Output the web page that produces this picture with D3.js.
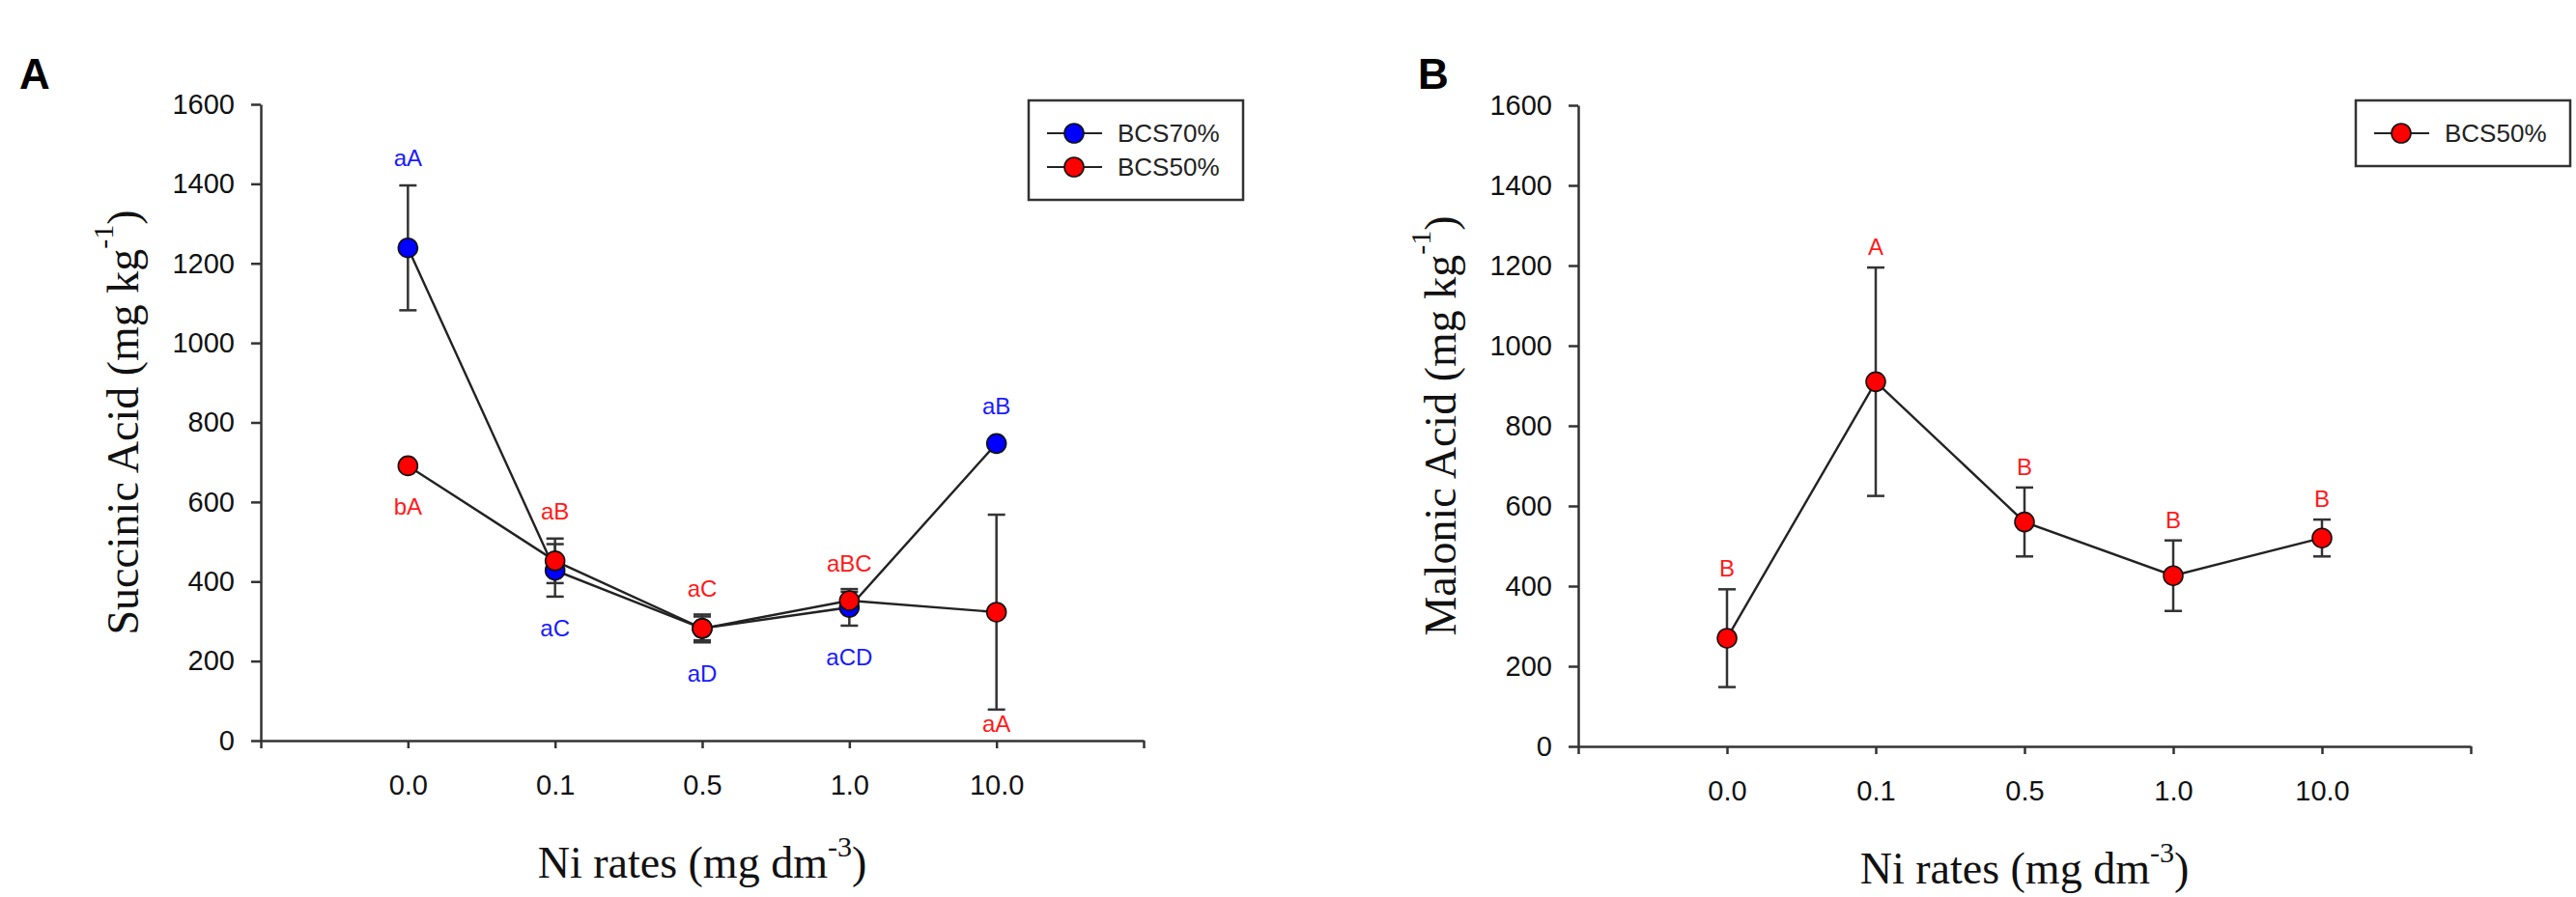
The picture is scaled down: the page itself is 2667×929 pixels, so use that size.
<!DOCTYPE html>
<html>
<head>
<meta charset="utf-8">
<script src="https://cdnjs.cloudflare.com/ajax/libs/d3/7.8.5/d3.min.js"></script>
<style>
  body { margin: 0; background: #fff; }
  svg { display: block; }
</style>
</head>
<body>
<div id="chart"></div>
<script>
var width = 2667;
var height = 929;

// x categories (Ni rates) and y ticks shared by both panels
var categories = ["0.0", "0.1", "0.5", "1.0", "10.0"];
var yTicks = [0, 200, 400, 600, 800, 1000, 1200, 1400, 1600];

// panel A - succinic acid
var succinic70 = [1239, 428, 282, 335, 747];
var succinic70Err = [157, 66, 35, 46, 8];
var succinic70Letters = ["aA", "aC", "aD", "aCD", "aB"];
var succinic70Side = ["up", "down", "down", "down", "up"];

var succinic50 = [691, 452, 282, 352, 323];
var succinic50Err = [8, 56, 30, 22, 245];
var succinic50Letters = ["bA", "aB", "aC", "aBC", "aA"];
var succinic50Side = ["down", "up", "up", "up", "down"];

// panel B - malonic acid
var malonic50 = [270, 910, 560, 426, 520];
var malonic50Err = [122, 285, 86, 88, 46];
var malonic50Letters = ["B", "A", "B", "B", "B"];
var malonic50Side = ["up", "up", "up", "up", "up"];

var blue = "#0000ff", red = "#ff0000";
var sans = "'Liberation Sans', Arial, sans-serif";
var serif = "'Liberation Serif', 'Times New Roman', serif";

var svg = d3.select("#chart").append("svg")
    .attr("width", width)
    .attr("height", height);

svg.append("rect")
    .attr("width", width)
    .attr("height", height)
    .attr("fill", "#fff");

function drawPanel(p) {
    var n = categories.length;
    var x = d3.scaleLinear().domain([0, n + 1]).range([p.left, p.right]);
    var y = d3.scaleLinear().domain([0, 1600]).range([p.bottom, p.top]);
    var g = svg.append("g");
    var r = 10;

    var yAxis = d3.axisLeft(y)
        .tickValues(yTicks)
        .tickSize(10)
        .tickSizeOuter(0)
        .tickPadding(17)
        .tickFormat(d3.format("d"));
    var xAxis = d3.axisBottom(x)
        .tickValues(d3.range(0, n + 2))
        .tickSize(8)
        .tickSizeOuter(0)
        .tickPadding(27)
        .tickFormat(function(i) { return categories[i - 1] || ""; });

    var gy = g.append("g")
        .attr("transform", "translate(" + p.left + ",0)")
        .call(yAxis);
    var gx = g.append("g")
        .attr("transform", "translate(0," + p.bottom + ")")
        .call(xAxis);

    [gy, gx].forEach(function(a) {
        a.selectAll("path, line").attr("stroke", "#333").attr("stroke-width", 2.5);
        a.selectAll("text")
            .attr("fill", "#111")
            .style("font-family", sans)
            .style("font-size", "29px");
    });

    // error bars first, then lines, then markers on top
    p.series.forEach(function(s) {
        var eb = g.append("g").attr("stroke", "#333").attr("stroke-width", 2.5);
        s.values.forEach(function(v, i) {
            var cx = x(i + 1);
            var y1 = y(v + s.errors[i]), y2 = y(v - s.errors[i]);
            eb.append("line").attr("x1", cx).attr("x2", cx).attr("y1", y1).attr("y2", y2);
            eb.append("line").attr("x1", cx - 9).attr("x2", cx + 9).attr("y1", y1).attr("y2", y1);
            eb.append("line").attr("x1", cx - 9).attr("x2", cx + 9).attr("y1", y2).attr("y2", y2);
        });
    });

    var line = d3.line()
        .x(function(d, i) { return x(i + 1); })
        .y(function(d) { return y(d); });

    p.series.forEach(function(s) {
        g.append("path")
            .datum(s.values)
            .attr("fill", "none")
            .attr("stroke", "#222")
            .attr("stroke-width", 2.4)
            .attr("d", line);
    });

    p.series.forEach(function(s) {
        g.append("g").selectAll("circle")
            .data(s.values)
            .join("circle")
            .attr("cx", function(d, i) { return x(i + 1); })
            .attr("cy", function(d) { return y(d); })
            .attr("r", r)
            .attr("fill", s.color)
            .attr("stroke", "#111")
            .attr("stroke-width", 1.6);
    });

    // significance letters
    p.series.forEach(function(s) {
        g.append("g").selectAll("text")
            .data(s.letters)
            .join("text")
            .attr("x", function(d, i) { return x(i + 1); })
            .attr("y", function(d, i) {
                var v = s.values[i], e = s.errors[i];
                if (s.sides[i] === "up") {
                    return Math.min(y(v + e), y(v) - r) - p.gapUp;
                }
                return Math.min(Math.max(y(v - e), y(v) + r) + 41, p.bottom - 9);
            })
            .attr("text-anchor", "middle")
            .attr("fill", s.textColor)
            .style("font-family", sans)
            .style("font-size", "24px")
            .text(function(d) { return d; });
    });

    // axis titles
    var yt = g.append("text")
        .attr("transform", "translate(" + (p.left - 127) + "," + ((p.top + p.bottom) / 2) + ") rotate(-90)")
        .attr("text-anchor", "middle")
        .attr("fill", "#111")
        .style("font-family", serif)
        .style("font-size", "46px");
    yt.append("tspan").text(p.yTitle + " (mg kg");
    yt.append("tspan").attr("dy", -26).style("font-size", "30px").text("-1");
    yt.append("tspan").attr("dy", 26).text(")");

    var xt = g.append("text")
        .attr("x", (p.left + p.right) / 2)
        .attr("y", p.bottom + 142)
        .attr("text-anchor", "middle")
        .attr("fill", "#111")
        .style("font-family", serif)
        .style("font-size", "46px");
    xt.append("tspan").text("Ni rates (mg dm");
    xt.append("tspan").attr("dy", -22).style("font-size", "30px").text("-3");
    xt.append("tspan").attr("dy", 22).text(")");

    // panel letter
    g.append("text")
        .attr("x", p.letterX)
        .attr("y", 92)
        .attr("fill", "#000")
        .style("font-family", sans)
        .style("font-weight", "bold")
        .style("font-size", "44px")
        .text(p.letter);

    // legend
    var lx = p.right - 119, ly = 104;
    var lg = g.append("g");
    lg.append("rect")
        .attr("x", lx)
        .attr("y", ly)
        .attr("width", 222)
        .attr("height", 68 + 35 * (p.series.length - 1))
        .attr("fill", "#fff")
        .attr("stroke", "#333")
        .attr("stroke-width", 2.5);
    p.series.forEach(function(s, i) {
        var ry = ly + 34 + 35 * i;
        lg.append("line")
            .attr("x1", lx + 19).attr("x2", lx + 76)
            .attr("y1", ry).attr("y2", ry)
            .attr("stroke", "#222").attr("stroke-width", 2.2);
        lg.append("circle")
            .attr("cx", lx + 47).attr("cy", ry).attr("r", r)
            .attr("fill", s.color).attr("stroke", "#111").attr("stroke-width", 1.6);
        lg.append("text")
            .attr("x", lx + 92).attr("y", ry).attr("dy", "0.35em")
            .attr("fill", "#222")
            .style("font-family", sans)
            .style("font-size", "26px")
            .text(s.name);
    });
}

drawPanel({
    left: 270, right: 1184, top: 108, bottom: 767,
    letter: "A", letterX: 20, gapUp: 20,
    yTitle: "Succinic Acid",
    series: [
        {name: "BCS70%", values: succinic70, errors: succinic70Err, letters: succinic70Letters,
         sides: succinic70Side, color: blue, textColor: "#1a1aff"},
        {name: "BCS50%", values: succinic50, errors: succinic50Err, letters: succinic50Letters,
         sides: succinic50Side, color: red, textColor: "#ff1a1a"}
    ]
});

drawPanel({
    left: 1634, right: 2558, top: 109, bottom: 773,
    letter: "B", letterX: 1468, gapUp: 13,
    yTitle: "Malonic Acid",
    series: [
        {name: "BCS50%", values: malonic50, errors: malonic50Err, letters: malonic50Letters,
         sides: malonic50Side, color: red, textColor: "#ff1a1a"}
    ]
});
</script>
</body>
</html>
